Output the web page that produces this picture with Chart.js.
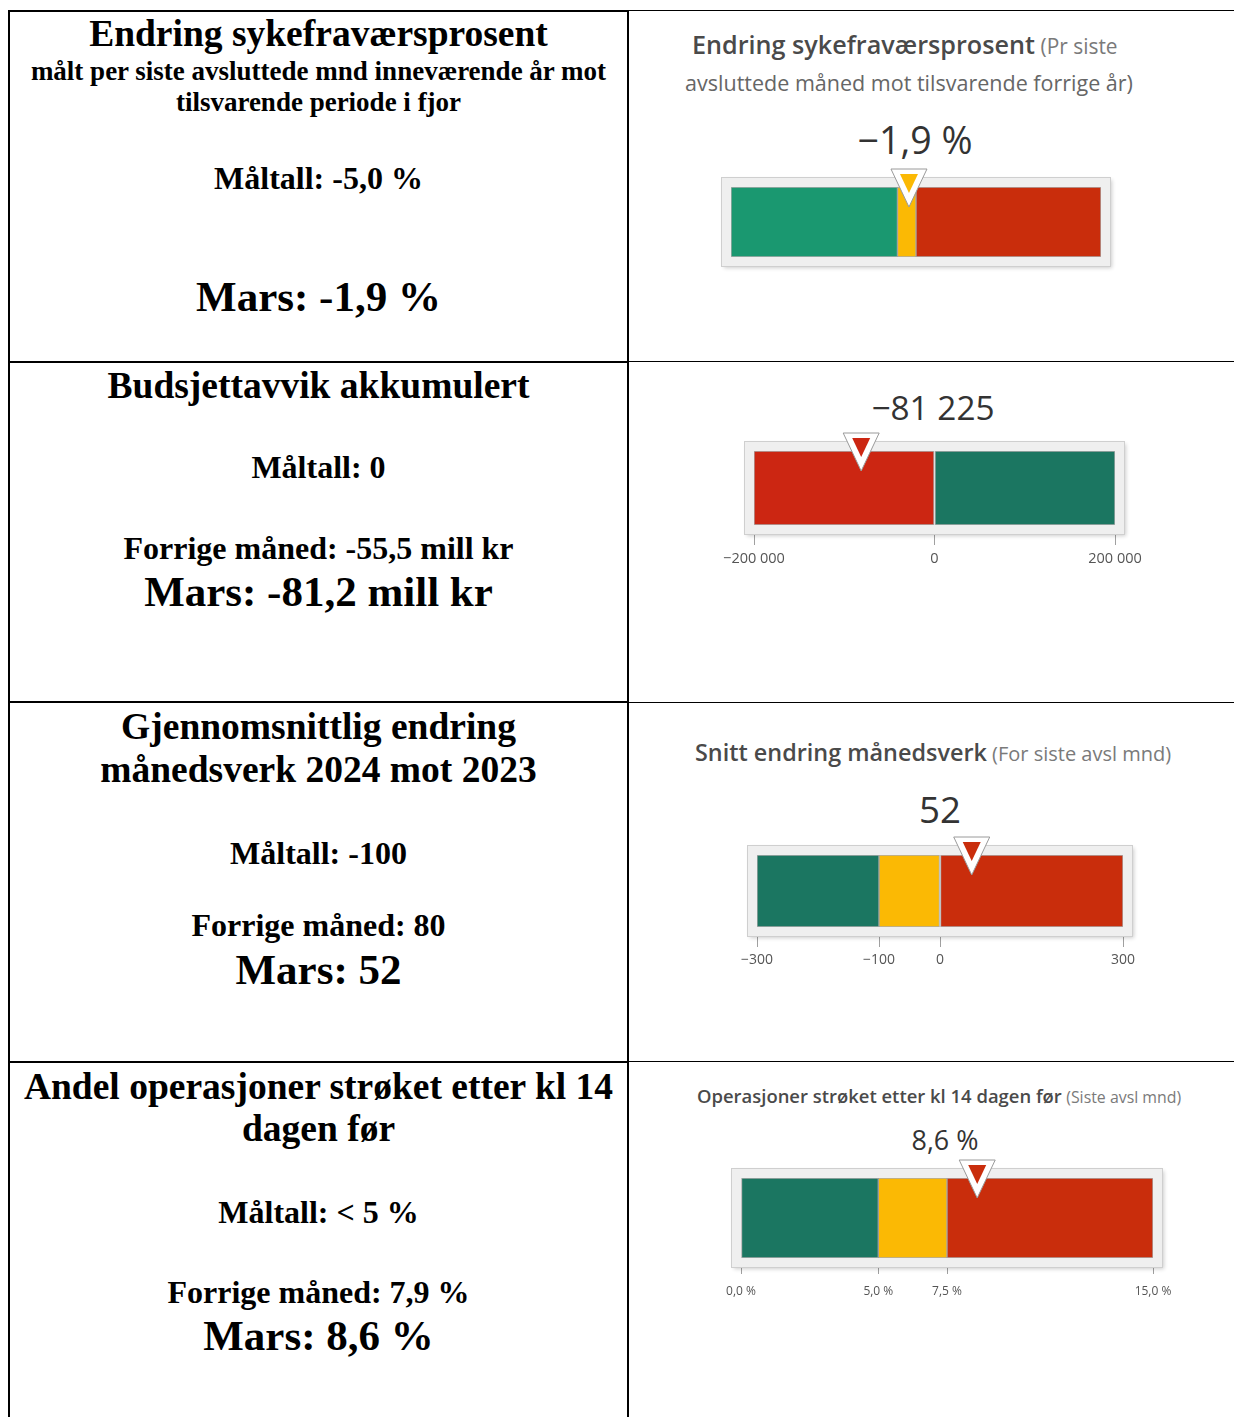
<!DOCTYPE html>
<html>
<head>
<meta charset="utf-8">
<script src="https://cdn.jsdelivr.net/npm/chart.js@4.4.1/dist/chart.umd.min.js"></script>
<style>
  body { margin:0; background:#fff; width:1234px; height:1417px; position:relative; overflow:hidden; }
  .ln { position:absolute; background:#000; }
  .t { position:absolute; left:10px; width:617px; text-align:center; font-family:"Liberation Serif","Times New Roman",serif;
       font-weight:bold; color:#000; line-height:1; white-space:nowrap; }
  .g { position:absolute; font-family:"Open Sans",Lato,sans-serif; color:#4d4d4d; white-space:nowrap; line-height:1; }
  .g b { font-weight:600; color:#4a4a4a; }
  .g i { font-style:normal; color:#7a7a7a; }
  .v { position:absolute; font-family:"Open Sans",Lato,sans-serif; color:#333; white-space:nowrap; line-height:1; transform:translateX(-50%); }
  canvas { position:absolute; }
</style>
</head>
<body>

<!-- table lines -->
<div class="ln" style="left:8px;top:10px;width:2px;height:1407px"></div>
<div class="ln" style="left:627px;top:10px;width:2px;height:1407px"></div>
<div class="ln" style="left:8px;top:10px;width:621px;height:2px"></div>
<div class="ln" style="left:629px;top:10px;width:605px;height:1px"></div>
<div class="ln" style="left:8px;top:361px;width:621px;height:2px"></div>
<div class="ln" style="left:629px;top:361px;width:605px;height:1px"></div>
<div class="ln" style="left:8px;top:701px;width:621px;height:2px"></div>
<div class="ln" style="left:629px;top:702px;width:605px;height:1px"></div>
<div class="ln" style="left:8px;top:1061px;width:621px;height:2px"></div>
<div class="ln" style="left:629px;top:1061px;width:605px;height:1px"></div>

<!-- left column -->
<div class="t" style="top:15px;font-size:37.5px">Endring sykefraværsprosent</div>
<div class="t" style="top:58px;font-size:27px">målt per siste avsluttede mnd inneværende år mot</div>
<div class="t" style="top:89px;font-size:27px">tilsvarende periode i fjor</div>
<div class="t" style="top:162px;font-size:32px">Måltall: -5,0 %</div>
<div class="t" style="top:275px;font-size:43px">Mars: -1,9 %</div>

<div class="t" style="top:367px;font-size:37.5px">Budsjettavvik akkumulert</div>
<div class="t" style="top:451px;font-size:32px">Måltall: 0</div>
<div class="t" style="top:532px;font-size:32px">Forrige måned: -55,5 mill kr</div>
<div class="t" style="top:570px;font-size:43px">Mars: -81,2 mill kr</div>

<div class="t" style="top:708px;font-size:37.5px">Gjennomsnittlig endring</div>
<div class="t" style="top:751px;font-size:37.5px">månedsverk 2024 mot 2023</div>
<div class="t" style="top:837px;font-size:32px">Måltall: -100</div>
<div class="t" style="top:909px;font-size:32px">Forrige måned: 80</div>
<div class="t" style="top:948px;font-size:43px">Mars: 52</div>

<div class="t" style="top:1068px;font-size:37.5px">Andel operasjoner strøket etter kl 14</div>
<div class="t" style="top:1110px;font-size:37.5px">dagen før</div>
<div class="t" style="top:1196px;font-size:32px">Måltall: &lt; 5 %</div>
<div class="t" style="top:1276px;font-size:32px">Forrige måned: 7,9 %</div>
<div class="t" style="top:1314px;font-size:43px">Mars: 8,6 %</div>

<!-- gauge titles (font sizes fitted to the reference widths below) -->
<div class="g" data-cy="47" style="left:692px;font-size:22px"><b data-w="343">Endring sykefraværsprosent</b> <i data-w="77" style="font-size:18px">(Pr siste</i></div>
<div class="g" data-cy="85" style="left:909px;font-size:20px;color:#666;transform:translateX(-50%)"><span data-w="448">avsluttede måned mot tilsvarende forrige år)</span></div>
<div class="g" data-cy="755" style="left:695px;font-size:20px"><b data-w="292">Snitt endring månedsverk</b> <i data-w="179" style="font-size:16px">(For siste avsl mnd)</i></div>
<div class="g" data-cy="1098" style="left:697px;font-size:17px"><b data-w="365">Operasjoner strøket etter kl 14 dagen før</b> <i data-w="115" style="font-size:12px">(Siste avsl mnd)</i></div>

<div id="vals"></div>
<div id="gauges"></div>

<script>
// ===== data =====
const gaugeValues = [-1.9, -81225, 52, 8.6];
const gaugeValueLabels = ['−1,9 %', '−81 225', '52', '8,6 %'];
const gaugeBands = [
  [-50, -5, 0, 50],
  [-200000, 0, 200000],
  [-300, -100, 0, 300],
  [0, 5, 7.5, 15]
];
const gaugeTicks = [
  [],
  [-200000, 0, 200000],
  [-300, -100, 0, 300],
  [0, 5, 7.5, 15]
];
const gaugeTickLabels = [
  [],
  ['−200 000', '0', '200 000'],
  ['−300', '−100', '0', '300'],
  ['0,0 %', '5,0 %', '7,5 %', '15,0 %']
];

// ===== styles / layout =====
const GREEN = '#1b7661', YELLOW = '#fbb904', RED = '#c92d0c';
const bandColors = [
  ['#1a9870', YELLOW, RED],
  ['#cc2612', GREEN],
  [GREEN, YELLOW, RED],
  [GREEN, YELLOW, RED]
];
// inner bar rectangles: x0, x1, y0, y1
const boxes = [
  [731, 1101, 187, 257],
  [754, 1115, 451, 525],
  [757, 1123, 855, 927],
  [741, 1153, 1178, 1258]
];
// value label: centre x, centre y, wanted width
const valueStyle = [
  { x: 915, y: 141, w: 115 },
  { x: 933, y: 409, w: 123 },
  { x: 940, y: 810, w: 42 },
  { x: 945, y: 1141, w: 67 }
];
const tickStyle = [
  null,
  { size: 14.5, len: 20, pad: 5 },
  { size: 14, len: 20, pad: 5 },
  { size: 12, len: 16, pad: 10 }
];

const PAD = 50, TOP = 30, AXIS_H = 45;

// fit font size so that a text gets a given width
function fitWidth(el, target) {
  let fs = parseFloat(getComputedStyle(el).fontSize);
  for (let i = 0; i < 3; i++) {
    const w = el.getBoundingClientRect().width;
    if (!w) break;
    fs *= target / w;
    el.style.fontSize = fs + 'px';
  }
  return fs;
}

const gaugePlugin = {
  id: 'gauge',
  beforeDatasetsDraw(chart) {
    const { ctx, chartArea: a } = chart;
    ctx.save();
    ctx.shadowColor = 'rgba(0,0,0,0.2)';
    ctx.shadowBlur = 4;
    ctx.shadowOffsetX = 2;
    ctx.shadowOffsetY = 2;
    ctx.fillStyle = '#efefef';
    ctx.fillRect(a.left - 9, a.top - 9, a.right - a.left + 18, a.bottom - a.top + 18);
    ctx.restore();
    ctx.save();
    ctx.strokeStyle = '#cfcfcf';
    ctx.lineWidth = 1;
    ctx.strokeRect(a.left - 9.5, a.top - 9.5, a.right - a.left + 19, a.bottom - a.top + 19);
    ctx.restore();
  },
  afterDatasetsDraw(chart, args, opts) {
    const { ctx, chartArea: a } = chart;
    const cx = chart.scales.x.getPixelForValue(opts.value);
    const top = a.top - 18, h = 38, w = 36;
    ctx.save();
    ctx.beginPath();
    ctx.moveTo(cx - w / 2, top);
    ctx.lineTo(cx + w / 2, top);
    ctx.lineTo(cx, top + h);
    ctx.closePath();
    ctx.fillStyle = '#fff';
    ctx.fill();
    ctx.strokeStyle = '#9a9a9a';
    ctx.lineWidth = 1;
    ctx.stroke();
    ctx.beginPath();
    ctx.moveTo(cx - w / 2 + 9, top + 5);
    ctx.lineTo(cx + w / 2 - 9, top + 5);
    ctx.lineTo(cx, top + h - 14);
    ctx.closePath();
    ctx.fillStyle = opts.color;
    ctx.fill();
    ctx.restore();
  }
};

// gauge titles
document.querySelectorAll('.g').forEach(line => {
  let maxFs = 0;
  line.querySelectorAll('[data-w]').forEach(el => {
    maxFs = Math.max(maxFs, fitWidth(el, +el.dataset.w));
  });
  line.style.top = (+line.dataset.cy - 0.6 * maxFs) + 'px';
});

gaugeValues.forEach((val, k) => {
  const [x0, x1, y0, y1] = boxes[k];
  const bands = gaugeBands[k];
  const ticks = gaugeTicks[k];
  const hasAxis = ticks.length > 0;

  // value label
  const v = document.createElement('div');
  v.className = 'v';
  v.textContent = gaugeValueLabels[k];
  v.style.fontSize = '30px';
  v.style.left = valueStyle[k].x + 'px';
  document.getElementById('vals').appendChild(v);
  const fs = fitWidth(v, valueStyle[k].w);
  v.style.top = (valueStyle[k].y - 0.53 * fs) + 'px';

  // canvas
  const cv = document.createElement('canvas');
  const W = (x1 - x0) + PAD * 2;
  const H = (y1 - y0) + TOP + (hasAxis ? AXIS_H : 20);
  cv.width = W; cv.height = H;
  cv.style.left = (x0 - PAD) + 'px';
  cv.style.top = (y0 - TOP) + 'px';
  cv.style.width = W + 'px';
  cv.style.height = H + 'px';
  document.getElementById('gauges').appendChild(cv);

  let markerColor = bandColors[k][bandColors[k].length - 1];
  for (let i = 0; i < bands.length - 1; i++) {
    if (val >= bands[i] && val <= bands[i + 1]) { markerColor = bandColors[k][i]; break; }
  }

  const ts = tickStyle[k] || { size: 12, len: 10, pad: 3 };

  new Chart(cv, {
    type: 'bar',
    data: {
      labels: [''],
      datasets: bands.slice(0, -1).map((b, i) => ({
        data: [[bands[i], bands[i + 1]]],
        backgroundColor: bandColors[k][i],
        borderColor: 'rgba(90,90,90,0.45)',
        borderWidth: 1,
        borderSkipped: false,
        grouped: false,
        barPercentage: 1,
        categoryPercentage: 1
      }))
    },
    options: {
      indexAxis: 'y',
      responsive: false,
      animation: false,
      events: [],
      devicePixelRatio: 1,
      layout: { padding: { left: PAD, right: PAD, top: TOP, bottom: hasAxis ? 0 : 20 } },
      plugins: {
        legend: { display: false },
        tooltip: { enabled: false },
        gauge: { value: val, color: markerColor }
      },
      scales: {
        y: { display: false },
        x: {
          display: hasAxis,
          min: bands[0],
          max: bands[bands.length - 1],
          afterBuildTicks: s => { s.ticks = ticks.map(t => ({ value: t })); },
          afterFit: s => { if (hasAxis) s.height = AXIS_H; },
          grid: { drawOnChartArea: false, drawTicks: true, tickLength: ts.len, color: '#a0a0a0', tickColor: '#a0a0a0' },
          border: { display: false },
          ticks: {
            autoSkip: false,
            maxRotation: 0,
            padding: ts.pad,
            color: '#555',
            font: { family: 'Open Sans', size: ts.size },
            callback: (value, i) => gaugeTickLabels[k][i]
          }
        }
      }
    },
    plugins: [gaugePlugin]
  });
});
</script>
</body>
</html>
